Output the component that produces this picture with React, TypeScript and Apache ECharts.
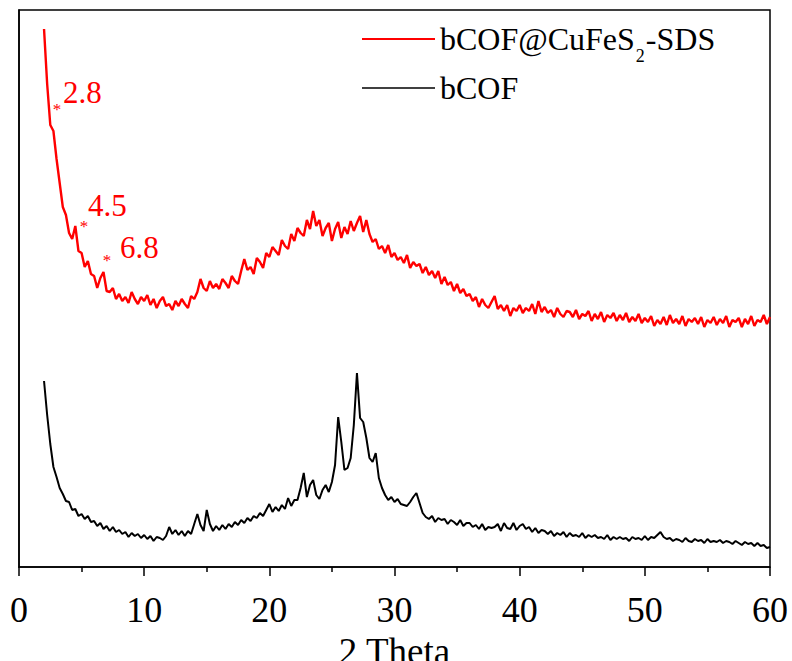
import React, { useEffect, useRef } from "react";
import * as echarts from "echarts";

// 2θ grid of the digitised patterns (degrees)
const thetaStart = 2;
const thetaStep = 0.25;

// bCOF@CuFeS2-SDS intensity (a.u., offset trace), one row per 2°
const redValues = [
  538, 483, 442, 436, 408, 384, 360, 352,
  334, 328, 341, 316, 314, 300, 306, 293,
  291, 279, 289, 295, 276, 275, 279, 268,
  273, 266, 270, 264, 275, 268, 263, 270,
  266, 272, 262, 268, 259, 266, 270, 261,
  263, 257, 266, 261, 268, 263, 259, 271,
  268, 275, 288, 279, 276, 286, 279, 283,
  278, 288, 284, 279, 291, 286, 283, 296,
  308, 297, 300, 293, 309, 305, 299, 314,
  310, 320, 316, 312, 327, 321, 318, 333,
  326, 339, 334, 331, 347, 338, 356, 341,
  347, 331, 339, 344, 326, 338, 345, 329,
  340, 333, 346, 336, 344, 351, 335, 347,
  333, 325, 328, 318, 321, 314, 322, 310,
  314, 307, 310, 304, 312, 299, 305, 301,
  303, 294, 300, 292, 296, 289, 296, 283,
  290, 282, 285, 276, 283, 274, 278, 271,
  273, 266, 270, 260, 268, 262, 259, 265,
  271, 258, 262, 256, 262, 251, 259, 256,
  262, 254, 259, 256, 263, 253, 266, 255,
  260, 254, 257, 250, 259, 253, 250, 256,
  255, 250, 257, 248, 253, 251, 256, 246,
  253, 248, 255, 245, 252, 249, 254, 246,
  252, 247, 254, 245, 250, 246, 253, 244,
  249, 245, 251, 241, 247, 243, 250, 242,
  252, 244, 248, 243, 251, 241, 248, 245,
  249, 243, 250, 240, 247, 244, 250, 242,
  248, 244, 251, 240, 247, 245, 249, 240,
  248, 243, 251, 241, 247, 245, 252, 243,
  250,
];

// bCOF intensity (a.u.), one row per 2°
const blackValues = [
  186, 152, 123, 100, 90, 79, 73, 66,
  65, 57, 58, 51, 53, 48, 51, 45,
  46, 41, 44, 38, 41, 36, 40, 35,
  37, 33, 35, 30, 34, 31, 33, 29,
  32, 28, 31, 26, 30, 29, 27, 31,
  40, 33, 37, 32, 36, 31, 36, 33,
  43, 53, 42, 36, 57, 43, 36, 41,
  37, 42, 38, 43, 40, 45, 42, 47,
  44, 49, 46, 51, 49, 54, 51, 57,
  63, 55, 60, 56, 62, 58, 69, 61,
  67, 67, 79, 94, 70, 82, 87, 72,
  68, 77, 82, 75, 85, 102, 150, 125,
  97, 99, 109, 142, 194, 149, 145, 129,
  109, 105, 114, 89, 79, 72, 67, 70,
  65, 68, 63, 62, 61, 65, 70, 74,
  64, 54, 50, 48, 51, 45, 49, 47,
  48, 43, 47, 45, 42, 47, 41, 44,
  44, 40, 42, 38, 43, 37, 40, 39,
  40, 43, 36, 44, 39, 38, 44, 37,
  41, 43, 38, 40, 35, 39, 34, 37,
  36, 33, 36, 31, 34, 32, 35, 30,
  34, 31, 32, 30, 34, 29, 32, 30,
  32, 29, 30, 28, 32, 27, 30, 28,
  30, 28, 29, 26, 30, 28, 29, 27,
  31, 27, 30, 29, 32, 35, 30, 28,
  29, 26, 28, 27, 25, 29, 26, 25,
  28, 26, 27, 24, 28, 25, 26, 25,
  27, 24, 26, 25, 23, 26, 24, 22,
  25, 23, 24, 21, 24, 21, 22, 19,
  20,
];

const seriesNames = ["bCOF@CuFeS2-SDS", "bCOF"];
const seriesColors = ["#ff0000", "#000000"];
const peakLabels = ["2.8", "4.5", "6.8"];
const xTickMin = 0;
const xTickMax = 60;
const xTickInterval = 10;
const xAxisTitle = "2 Theta";

const FONT = "Liberation Serif";

export default function App() {
  const ref = useRef<HTMLDivElement>(null);

  useEffect(() => {
    if (!ref.current) return;
    const chart = echarts.init(ref.current, null, { renderer: "svg" });

    const toPairs = (vals: number[]) =>
      vals.map((v, i) => [thetaStart + i * thetaStep, v]);

    const legendFormatter = (name: string) => {
      if (name === seriesNames[0]) return "{m|bCOF@CuFeS}{s|2}{m|-SDS}";
      return "{m|" + name + "}";
    };
    const legendRich = {
      m: { fontSize: 32, fontFamily: FONT, color: "#000" },
      s: { fontSize: 18, fontFamily: FONT, color: "#000", padding: [34, 1, 0, 1] },
    };

    const annPos = [
      { x: 63, y: 92, sx: 57, sy: 109 },
      { x: 88, y: 205, sx: 84, sy: 226 },
      { x: 120, y: 247, sx: 107, sy: 260 },
    ];
    const graphics: any[] = [];
    peakLabels.forEach((lab, i) => {
      const p = annPos[i];
      graphics.push({
        type: "text",
        x: p.x,
        y: p.y,
        style: {
          text: "{a|" + lab + "}",
          rich: { a: { fontSize: 31, fontFamily: FONT, fill: "#ff0000" } },
          align: "left",
          verticalAlign: "middle",
        },
      });
      graphics.push({
        type: "text",
        x: p.sx,
        y: p.sy,
        style: {
          text: "{a|*}",
          rich: { a: { fontSize: 17, fontFamily: FONT, fill: "#ff0000" } },
          align: "center",
          verticalAlign: "middle",
        },
      });
    });

    chart.setOption({
      animation: false,
      grid: {
        left: 19,
        right: 22,
        top: 10,
        bottom: 94,
        show: true,
        borderColor: "#000",
        borderWidth: 1.5,
        containLabel: false,
        outerBoundsMode: "none",
      },
      legend: [
        {
          data: [seriesNames[0]],
          left: 357,
          top: 18,
          itemWidth: 73,
          itemHeight: 14,
          selectedMode: false,
          icon: "path://M0,6 L73,6 L73,8 L0,8 Z",
          itemStyle: { color: seriesColors[0] },
          formatter: legendFormatter,
          textStyle: { rich: legendRich },
        },
        {
          data: [seriesNames[1]],
          left: 357,
          top: 67,
          itemWidth: 73,
          itemHeight: 14,
          selectedMode: false,
          icon: "path://M0,6.25 L73,6.25 L73,7.75 L0,7.75 Z",
          itemStyle: { color: seriesColors[1] },
          formatter: legendFormatter,
          textStyle: { rich: legendRich },
        },
      ],
      xAxis: {
        type: "value",
        min: xTickMin,
        max: xTickMax,
        interval: xTickInterval,
        name: xAxisTitle,
        nameLocation: "middle",
        nameGap: 57,
        nameTextStyle: {
          fontSize: 37,
          fontFamily: FONT,
          rich: { t: { fontSize: 37, fontFamily: FONT, color: "#000" } },
        },
        axisLine: { show: true, onZero: false, lineStyle: { color: "#000", width: 1.5 } },
        axisTick: { show: true, inside: false, length: 9, lineStyle: { color: "#000", width: 1.5 } },
        minorTick: { show: true, splitNumber: 2, length: 5, lineStyle: { color: "#000", width: 1.5 } },
        splitLine: { show: false },
        minorSplitLine: { show: false },
        axisLabel: {
          fontSize: 36,
          fontFamily: FONT,
          margin: 25,
          formatter: (v: number) => "{t|" + v + "}",
          rich: { t: { fontSize: 36, fontFamily: FONT, color: "#000" } },
        },
      },
      yAxis: {
        type: "value",
        min: 0,
        max: 557,
        axisLine: { show: true, lineStyle: { color: "#000", width: 1.5 } },
        axisTick: { show: false },
        axisLabel: { show: false },
        splitLine: { show: false },
      },
      series: [
        {
          name: seriesNames[0],
          type: "line",
          data: toPairs(redValues),
          symbol: "none",
          showSymbol: false,
          lineStyle: { color: seriesColors[0], width: 2.4 },
          itemStyle: { color: seriesColors[0] },
          z: 3,
        },
        {
          name: seriesNames[1],
          type: "line",
          data: toPairs(blackValues),
          symbol: "none",
          showSymbol: false,
          lineStyle: { color: seriesColors[1], width: 2 },
          itemStyle: { color: seriesColors[1] },
          z: 2,
        },
      ],
      graphic: graphics,
    });

    return () => chart.dispose();
  }, []);

  return (
    <div
      ref={ref}
      style={{ position: "fixed", left: 0, top: 0, width: 792, height: 661, background: "#fff" }}
    />
  );
}
